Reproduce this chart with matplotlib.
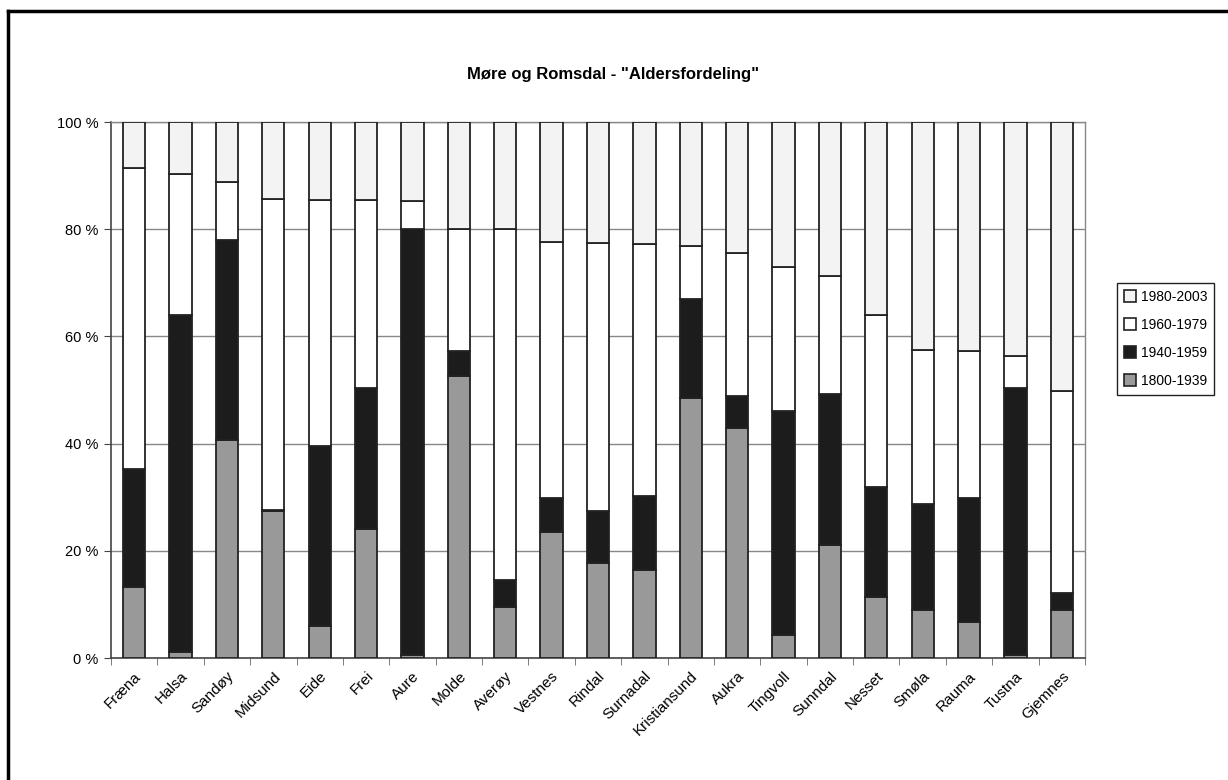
import matplotlib.pyplot as plt
import numpy as np
from matplotlib.lines import Line2D
from matplotlib.patches import Patch

plt.rcParams['font.family'] = ['Liberation Sans', 'DejaVu Sans']

kommuner = ["Fræna", "Halsa", "Sandøy", "Midsund", "Eide", "Frei", "Aure", "Molde",
            "Averøy", "Vestnes", "Rindal", "Surnadal", "Kristiansund", "Aukra",
            "Tingvoll", "Sunndal", "Nesset", "Smøla", "Rauma", "Tustna", "Gjemnes"]

# andel (%) per periode, nederst til øverst
p1800_1939 = [13.3, 1.2, 40.7, 27.4, 5.9, 24.0, 0.5, 52.7, 9.5, 23.5, 17.8,
              16.4, 48.5, 43.0, 4.3, 21.1, 11.4, 9.0, 6.8, 0.5, 9.0]
p1940_1959 = [21.9, 62.7, 37.3, 0.2, 33.7, 26.3, 79.5, 4.6, 5.1, 6.3, 9.6,
              13.8, 18.5, 5.9, 41.8, 28.1, 20.5, 19.8, 23.0, 49.9, 3.2]
p1960_1979 = [56.2, 26.4, 10.8, 58.0, 45.9, 35.2, 5.3, 22.8, 65.4, 47.9, 50.1,
              47.1, 9.9, 26.6, 26.8, 22.1, 32.0, 28.7, 27.5, 5.9, 37.7]
p1980_2003 = [8.6, 9.7, 11.2, 14.4, 14.5, 14.5, 14.7, 19.9, 20.0, 22.3, 22.5,
              22.7, 23.1, 24.5, 27.1, 28.7, 36.1, 42.5, 42.7, 43.7, 50.1]

perioder = ["1800-1939", "1940-1959", "1960-1979", "1980-2003"]
serier = [p1800_1939, p1940_1959, p1960_1979, p1980_2003]
farger = ["#999999", "#1c1c1c", "#ffffff", "#f3f3f3"]

fig = plt.figure(figsize=(12.28, 7.8), dpi=100)
ax = fig.add_axes([111/1228, 1-658/780, (1085-111)/1228, (658-122)/780])

x = np.arange(len(kommuner))
bunn = np.zeros(len(kommuner))
for serie, farge in zip(serier, farger):
    ax.bar(x, serie, width=0.48, bottom=bunn, color=farge, edgecolor="#222222",
           linewidth=1.3, zorder=3)
    bunn += np.array(serie)

ax.set_xlim(-0.5, len(kommuner) - 0.5)
ax.set_ylim(0, 100)
ax.set_yticks(np.arange(0, 101, 20))
ax.set_yticklabels([f"{v} %" for v in range(0, 101, 20)], fontsize=10.5)
ax.yaxis.grid(True, color="#888888", linewidth=1.0, zorder=0)
ax.tick_params(axis="y", direction="out", length=5, color="#444444", pad=4)

# kategorinavn i midten, tickmerker mellom stolpene
ax.set_xticks(x)
ax.set_xticklabels(kommuner, rotation=45, ha="right", rotation_mode="anchor", fontsize=11)
ax.tick_params(axis="x", length=0, pad=8)
ax.set_xticks(np.arange(-0.5, len(kommuner)), minor=True)
ax.tick_params(axis="x", which="minor", direction="out", length=5, color="#666666")

for side in ["top", "right"]:
    ax.spines[side].set_color("#888888")
    ax.spines[side].set_linewidth(1.0)
for side in ["left", "bottom"]:
    ax.spines[side].set_color("#444444")
    ax.spines[side].set_linewidth(1.2)

fig.text(613/1228, 1-75/780, 'Møre og Romsdal - "Aldersfordeling"',
         ha="center", va="center", fontsize=12, fontweight="bold")

handles = [Patch(facecolor=f, edgecolor="#222222", linewidth=1.2)
           for f in farger[::-1]]
fig.legend(handles, perioder[::-1], loc="upper left",
           bbox_to_anchor=(1117/1228, 1-283/780), fontsize=10,
           fancybox=False, edgecolor="#222222", framealpha=1,
           handlelength=0.9, handleheight=0.9, handletextpad=0.3,
           labelspacing=1.0, borderpad=0.5, borderaxespad=0)

# ytre ramme (øvre og venstre kant)
fig.add_artist(Line2D([8/1228, 1], [1-11/780, 1-11/780], color="black", linewidth=2.5))
fig.add_artist(Line2D([8/1228, 8/1228], [0, 1-11/780], color="black", linewidth=2.5))

fig.savefig("out.png", dpi=100, facecolor="white")
